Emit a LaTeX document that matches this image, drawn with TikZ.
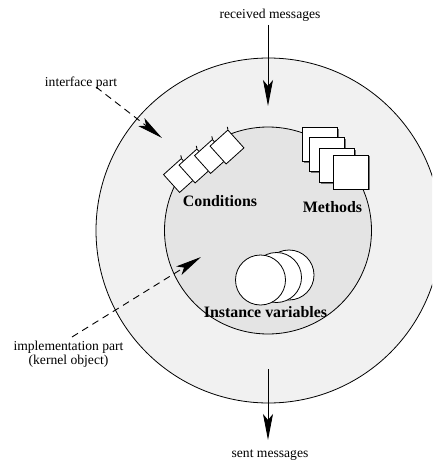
\documentclass[tikz,border=0pt]{standalone}
\usepackage{fontspec}
\setmainfont{Liberation Serif}
\usetikzlibrary{arrows.meta}

\definecolor{ringgray}{gray}{0.945}
\definecolor{kernelgray}{gray}{0.895}
\definecolor{shadowgray}{gray}{0.45}

\tikzset{
  boundary/.style={draw=black, line width=0.8pt},
  msgarrow/.style={line width=0.9pt, -{Stealth[length=26pt, width=10pt, inset=6pt]}},
  partarrow/.style={msgarrow, dashed, dash pattern=on 7pt off 5pt},
  lbl/.style={font=\fontsize{13.6}{13.8}\selectfont, inner sep=0pt},
  partlbl/.style={font=\bfseries\fontsize{15.9}{17}\selectfont, inner sep=0pt},
  condbox/.style={draw=black, fill=white, line width=0.8pt, minimum size=24pt,
                  inner sep=0pt, rotate=42},
  condtick/.style={draw=black, line width=0.9pt},
  methbox/.style={draw=black, fill=white, line width=0.8pt,
                  minimum width=34.5pt, minimum height=34pt, inner sep=0pt},
  methshadow/.style={fill=shadowgray, minimum width=34.5pt, minimum height=34pt, inner sep=0pt},
  varcircle/.style={circle, draw=black, fill=white, line width=0.8pt,
                    minimum size=50pt, inner sep=0pt},
}

\begin{document}
\begin{tikzpicture}[x=1pt, y=-1pt]
  \useasboundingbox (0,0) rectangle (432,460);
  \clip (0,0) rectangle (432,460);

  % object: interface ring and kernel
  \node[boundary, circle, fill=ringgray, minimum size=345pt, inner sep=0pt]
    (ring) at (268.5,230.5) {};
  \node[boundary, circle, fill=kernelgray, minimum size=207pt, inner sep=0pt]
    (kernel) at (268,230.5) {};

  % conditions: a tilted stack of boxes, each with a small mark on its top corner
  \foreach \i/\cx/\cy in {1/180.5/175.5, 2/196/166, 3/211.5/156.5, 4/227/147} {
    \node[condbox] (c\i) at (\cx,\cy) {};
    \draw[condtick] (c\i.north east) -- ++(-0.6,-2.6);
  }
  \node[partlbl, anchor=base] (condlbl) at (220,206.5) {Conditions};

  % methods: a cascading stack of boxes
  \foreach \i/\cx/\cy in {1/320/144.5, 2/327/154.8, 3/337/165.5, 4/351/172} {
    \node[methshadow] (ms\i) at (\cx+1.4,\cy+1.4) {};
    \node[methbox] (m\i) at (\cx,\cy) {};
  }
  \node[partlbl, anchor=base] (methlbl) at (332.5,212) {Methods};

  % instance variables: overlapping discs
  \node[varcircle] (v3) at (289,275) {};
  \node[varcircle] (v2) at (276.5,277.5) {};
  \node[varcircle] (v1) at (260.5,280) {};
  \node[partlbl, anchor=base] (varlbl) at (265.5,317) {Instance variables};

  % incoming and outgoing messages
  \node[lbl, anchor=base] (recv) at (270,18.5) {received messages};
  \coordinate (recvtail) at (268,25);
  \coordinate (recvtip) at (268,106);
  \draw[msgarrow] (recvtail) -- (recvtip);

  \node[lbl, anchor=base] (sent) at (270,457) {sent messages};
  \coordinate (senttail) at (268,369);
  \coordinate (senttip) at (268,440);
  \draw[msgarrow] (senttail) -- (senttip);

  % pointers to the two parts
  \node[lbl, anchor=base] (ifc) at (81,86.5) {interface part};
  \coordinate (ifctail) at (96,87);
  \coordinate (ifctip) at (162,138);
  \draw[partarrow] (ifctail) -- (ifctip);

  \node[lbl, align=center, anchor=center] (impl) at (68.5,354.5)
    {implementation part\\(kernel object)};
  \coordinate (impltail) at (72,337);
  \coordinate (impltip) at (201,257);
  \draw[partarrow] (impltail) -- (impltip);
\end{tikzpicture}
\end{document}
